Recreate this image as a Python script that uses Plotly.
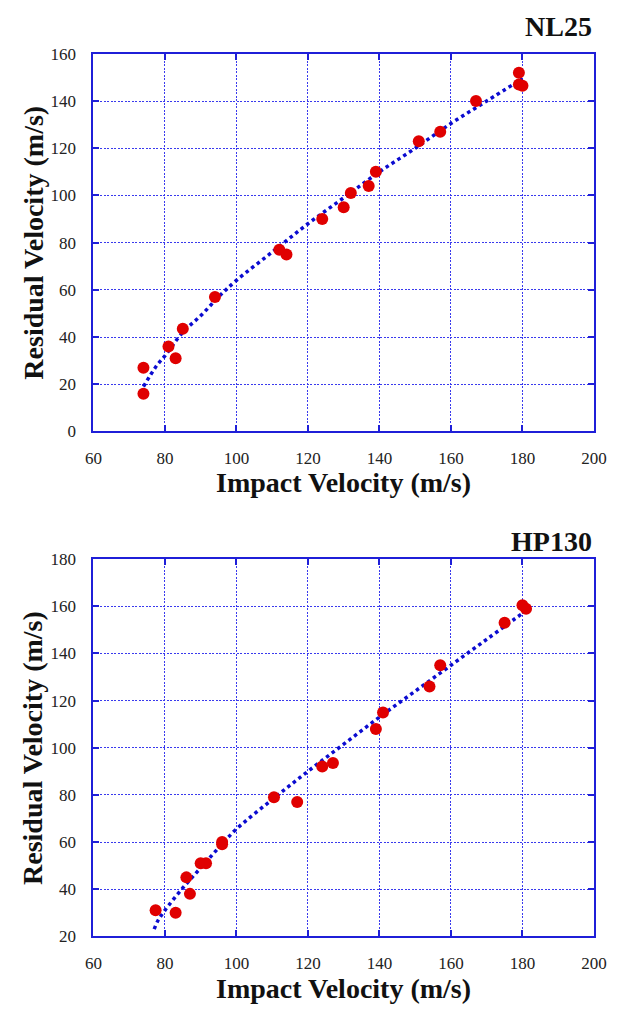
import plotly.graph_objects as go

W, H = 620, 1014

# ---- data: NL25 ----
nl_vi = [74, 74, 81, 83, 85, 94, 112, 114, 124, 130, 132, 137, 139, 151, 157, 167, 179, 179, 180]
nl_vr = [27, 16, 36, 31, 43.5, 57, 77, 75, 90, 95, 101, 104, 110, 123, 127, 140, 152, 147, 146.5]
nl_fit_x = [74, 76, 78, 80, 85, 90, 95, 100, 110, 120, 130, 140, 150, 160, 170, 180]
nl_fit_y = [19, 24, 28.5, 32, 42, 49, 57, 64, 76, 88, 99, 110, 120, 130.5, 140, 149.5]

# ---- data: HP130 ----
hp_vi = [77.4, 83, 86, 87, 90, 91.5, 96, 96, 110.5, 117, 124, 127, 139, 141, 154, 157, 175, 180, 181]
hp_vr = [31, 30, 45, 38, 51, 51, 60, 59, 79, 77, 92, 93.5, 108, 115, 126, 135, 153, 160.5, 159]
hp_fit_x = [77, 78, 80, 85, 90, 95, 100, 110, 120, 130, 140, 150, 160, 170, 180, 181]
hp_fit_y = [23, 26.5, 31, 40.5, 49, 57.5, 65.5, 78, 90, 101.5, 113, 124, 135, 146, 157, 158]

x_ticks = [60, 80, 100, 120, 140, 160, 180, 200]

FRAME = "#1f1fd8"
GRID = "#3a3aee"
LINE = "#0b0bd0"
MARK = "#e00000"
SERIF = "Liberation Serif"

def py(px):
    return 1 - px / H

fig = go.Figure()
# NL25
fig.add_trace(go.Scatter(x=nl_fit_x, y=nl_fit_y, mode="lines", line=dict(color=LINE, width=3.5, dash="dot", shape="spline"),
                         xaxis="x", yaxis="y", showlegend=False, hoverinfo="skip"))
fig.add_trace(go.Scatter(x=nl_vi, y=nl_vr, mode="markers", marker=dict(color=MARK, size=12),
                         xaxis="x", yaxis="y", showlegend=False))
# HP130
fig.add_trace(go.Scatter(x=hp_fit_x, y=hp_fit_y, mode="lines", line=dict(color=LINE, width=3.5, dash="dot", shape="spline"),
                         xaxis="x2", yaxis="y2", showlegend=False, hoverinfo="skip"))
fig.add_trace(go.Scatter(x=hp_vi, y=hp_vr, mode="markers", marker=dict(color=MARK, size=12),
                         xaxis="x2", yaxis="y2", showlegend=False))

axis_common = dict(showline=True, linecolor=FRAME, linewidth=2, mirror="ticks",
                   ticks="inside", ticklen=6, tickcolor=FRAME, tickwidth=1.5,
                   showgrid=True, gridcolor=GRID, gridwidth=1, griddash="2px,1.5px",
                   zeroline=False, tickfont=dict(family=SERIF, size=17, color="#222222"))

xd = [87.5 / W, 606.5 / W]
fig.update_layout(
    width=W, height=H, margin=dict(l=0, r=0, t=0, b=0),
    paper_bgcolor="white", plot_bgcolor="white",
    xaxis=dict(domain=xd, range=[60, 200], tickvals=x_ticks, anchor="y", ticklabelstandoff=10, **axis_common),
    yaxis=dict(domain=[py(430.5), py(45.7)], range=[0, 160], dtick=20, anchor="x", ticklabelstandoff=12, **axis_common),
    xaxis2=dict(domain=xd, range=[60, 200], tickvals=x_ticks, anchor="y2", ticklabelstandoff=10, **axis_common),
    yaxis2=dict(domain=[py(945), py(560.7)], range=[20, 180], dtick=20, anchor="x2", ticklabelstandoff=12, **axis_common),
)

tfont = dict(family=SERIF, size=28, color="#111111")
anns = [
    dict(text="<b>NL25</b>", x=607 / W, y=py(18), xanchor="right", yanchor="middle"),
    dict(text="<b>HP130</b>", x=607 / W, y=py(543), xanchor="right", yanchor="middle"),
    dict(text="<b>Impact Velocity (m/s)</b>", x=(87.5 + 606.5) / 2 / W, y=py(483), xanchor="center", yanchor="middle"),
    dict(text="<b>Impact Velocity (m/s)</b>", x=(87.5 + 606.5) / 2 / W, y=py(998), xanchor="center", yanchor="middle"),
    dict(text="<b>Residual Velocity (m/s)</b>", x=25 / W, y=py(238), textangle=-90, xanchor="center", yanchor="middle"),
    dict(text="<b>Residual Velocity (m/s)</b>", x=25 / W, y=py(753), textangle=-90, xanchor="center", yanchor="middle"),
]
for a in anns:
    fig.add_annotation(xref="paper", yref="paper", showarrow=False, font=tfont, **a)

fig.write_html("out.html")
